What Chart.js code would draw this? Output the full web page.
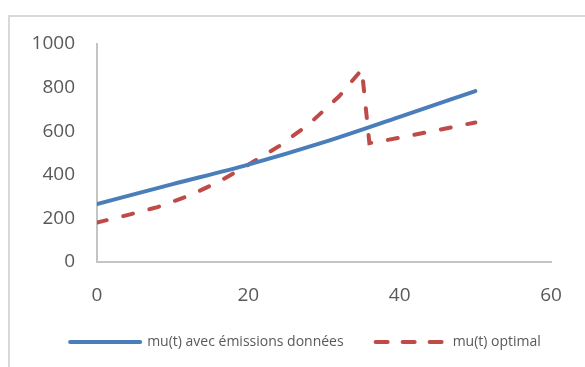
<!DOCTYPE html>
<html>
<head>
<meta charset="utf-8">
<script src="https://cdn.jsdelivr.net/npm/chart.js@4/dist/chart.umd.min.js"></script>
<style>
  html, body { margin: 0; padding: 0; background: #ffffff; overflow: hidden; }
  #wrap { position: relative; width: 585px; height: 367px; }
  #frame { position: absolute; left: 8px; top: 15px; width: 620px; height: 400px;
           border: 2px solid #d9d9d9; box-sizing: border-box; }
  #c { position: absolute; left: 0; top: 0; }
</style>
</head>
<body>
<div id="wrap">
  <div id="frame"></div>
  <canvas id="c" width="585" height="367"></canvas>
</div>
<script>
// mu(t) with given emissions
const tGiven = [0, 10, 20, 30, 40, 50];
const muGiven = [266, 357, 447, 550, 666, 784];

// optimal mu(t)
const tOptimal = [0, 4, 8, 12, 16, 20, 24, 28, 32, 35, 36, 40, 45, 50];
const muOptimal = [181, 215, 252, 302, 366, 446, 530, 632, 760, 883, 545, 570, 605, 640];

const xTicks = [0, 20, 40, 60];
const yTicks = [0, 200, 400, 600, 800, 1000];

const seriesNames = ['mu(t) avec émissions données', 'mu(t) optimal'];

const toPoints = (xs, ys) => xs.map((x, i) => ({ x: x, y: ys[i] }));

const textColor = '#595959';
const axisColor = '#c4c4c4';
const fontFamily = '"Open Sans", sans-serif';
const plainNumber = (v) => String(v);

// dash pattern used for the short legend sample of each series
const legendDash = [[], [12, 15]];

new Chart(document.getElementById('c'), {
  type: 'line',
  data: {
    datasets: [
      {
        label: seriesNames[0],
        data: toPoints(tGiven, muGiven),
        borderColor: '#4a7ebb',
        backgroundColor: '#4a7ebb',
        borderWidth: 4,
        borderCapStyle: 'round',
        cubicInterpolationMode: 'monotone',
        pointRadius: 0,
        pointHoverRadius: 0,
        fill: false
      },
      {
        label: seriesNames[1],
        data: toPoints(tOptimal, muOptimal),
        borderColor: '#be4b48',
        backgroundColor: '#be4b48',
        borderWidth: 4,
        borderDash: [10, 17],
        borderCapStyle: 'round',
        tension: 0,
        pointRadius: 0,
        pointHoverRadius: 0,
        fill: false
      }
    ]
  },
  options: {
    responsive: false,
    animation: false,
    layout: { padding: { left: 26, right: 0, top: 44, bottom: 8 } },
    plugins: {
      tooltip: { enabled: false },
      legend: {
        position: 'bottom',
        labels: {
          usePointStyle: true,
          pointStyle: 'line',
          pointStyleWidth: 70,
          padding: 32,
          color: textColor,
          font: { family: fontFamily, size: 14 },
          generateLabels: (chart) => {
            const items = Chart.defaults.plugins.legend.labels.generateLabels(chart);
            items.forEach((item) => {
              const ds = chart.data.datasets[item.datasetIndex];
              item.strokeStyle = ds.borderColor;
              item.fillStyle = ds.borderColor;
              item.lineWidth = ds.borderWidth;
              item.lineCap = 'round';
              item.lineDash = legendDash[item.datasetIndex];
              item.pointStyle = 'line';
            });
            return items;
          }
        }
      }
    },
    scales: {
      x: {
        type: 'linear',
        min: xTicks[0],
        max: xTicks[xTicks.length - 1],
        afterBuildTicks: (scale) => { scale.ticks = xTicks.map(v => ({ value: v })); },
        afterFit: (scale) => { scale.height = 41; },
        grid: { display: false, drawTicks: false },
        border: { display: true, color: axisColor, width: 2 },
        ticks: {
          padding: 22,
          color: textColor,
          maxRotation: 0,
          callback: plainNumber,
          font: { family: fontFamily, size: 19 }
        }
      },
      y: {
        type: 'linear',
        min: yTicks[0],
        max: yTicks[yTicks.length - 1],
        afterBuildTicks: (scale) => { scale.ticks = yTicks.map(v => ({ value: v })); },
        afterFit: (scale) => { scale.width = 71; },
        grid: { display: false, drawTicks: false },
        border: { display: true, color: axisColor, width: 2 },
        ticks: {
          padding: 22,
          color: textColor,
          callback: plainNumber,
          font: { family: fontFamily, size: 19 }
        }
      },
      // empty right-hand margin beside the plot
      yRight: {
        type: 'linear',
        position: 'right',
        min: 0,
        max: 1,
        afterFit: (scale) => { scale.width = 34; },
        grid: { display: false, drawTicks: false },
        border: { display: false },
        ticks: { display: false }
      }
    }
  }
});
</script>
</body>
</html>
